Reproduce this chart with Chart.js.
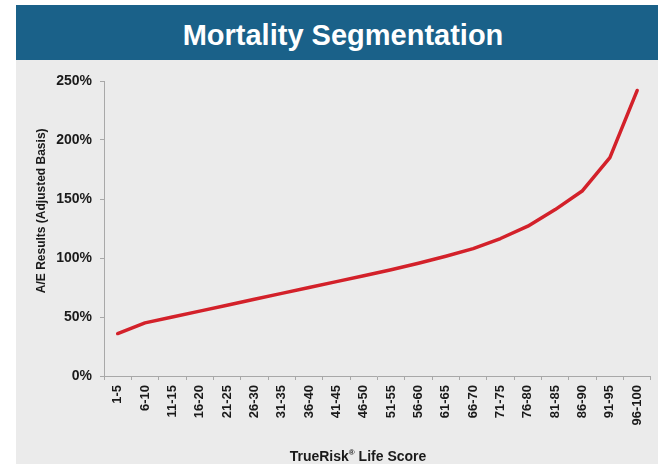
<!DOCTYPE html>
<html>
<head>
<meta charset="utf-8">
<script src="https://cdn.jsdelivr.net/npm/chart.js@4/dist/chart.umd.min.js"></script>
<style>
  html, body { margin: 0; padding: 0; background: #ffffff; }
  body { width: 658px; height: 464px; position: relative; overflow: hidden;
         font-family: "Liberation Sans", Arial, sans-serif; }
  #banner { position: absolute; left: 16px; top: 5px; width: 642px; height: 55px;
            background: #1a6189; }
  #banner h1 { position: absolute; left: 12px; right: 0; top: 16px; margin: 0;
               font-size: 29px; line-height: 29px; font-weight: bold; color: #ffffff;
               text-align: center; }
  #panel { position: absolute; left: 16px; top: 60px; width: 642px; height: 404px;
           background: #ebebeb; }
  #chart { display: block; }
</style>
</head>
<body>
<div id="banner"><h1>Mortality Segmentation</h1></div>
<div id="panel"><canvas id="chart" width="642" height="404"></canvas></div>
<script>
// TrueRisk score bands
const categories = ['1-5', '6-10', '11-15', '16-20', '21-25', '26-30', '31-35', '36-40',
  '41-45', '46-50', '51-55', '56-60', '61-65', '66-70', '71-75', '76-80',
  '81-85', '86-90', '91-95', '96-100'];

// Actual-to-expected mortality (%), adjusted basis
const aeResults = [36, 45, 50, 55, 60, 65, 70, 75, 80, 85, 90, 95.5, 101.5, 108, 116.5, 127, 141, 157, 185, 242];

// Value axis ticks (%)
const yTicks = [0, 50, 100, 150, 200, 250];

const FONT = '"Liberation Sans", Arial, sans-serif';
const INK = '#1a1a1a';
const Y_TITLE = 'A/E Results (Adjusted Basis)';
const X_TITLE = ['TrueRisk', '\u00AE', ' Life Score'];

// Axis captions: vertical one for the value axis, and the score caption
// with a raised registered mark under the category axis
const axisCaptions = {
  id: 'axisCaptions',
  afterDraw(chart) {
    const { ctx, scales } = chart;
    ctx.save();
    ctx.fillStyle = INK;

    // value axis caption, centred on the 140% level
    const cy = scales.y.getPixelForValue(140);
    ctx.save();
    ctx.translate(26, cy);
    ctx.rotate(-Math.PI / 2);
    ctx.font = 'bold 12px ' + FONT;
    ctx.textAlign = 'center';
    ctx.textBaseline = 'middle';
    ctx.fillText(Y_TITLE, 0, 0);
    ctx.restore();

    // category axis caption
    const big = 'bold 14px ' + FONT;
    const small = 'bold 8px ' + FONT;
    ctx.font = big;
    const w0 = ctx.measureText(X_TITLE[0]).width;
    const w2 = ctx.measureText(X_TITLE[2]).width;
    ctx.font = small;
    const w1 = ctx.measureText(X_TITLE[1]).width;
    const total = w0 + w1 + w2;
    const cx = 342;
    const base = 401;
    let x = cx - total / 2;
    ctx.textAlign = 'left';
    ctx.textBaseline = 'alphabetic';
    ctx.font = big;
    ctx.fillText(X_TITLE[0], x, base);
    x += w0;
    ctx.font = small;
    ctx.fillText(X_TITLE[1], x, base - 6);
    x += w1;
    ctx.font = big;
    ctx.fillText(X_TITLE[2], x, base);
    ctx.restore();
  }
};

new Chart(document.getElementById('chart'), {
  type: 'line',
  data: {
    labels: categories,
    datasets: [{
      data: aeResults,
      borderColor: '#d3212a',
      borderWidth: 3.5,
      borderCapStyle: 'round',
      borderJoinStyle: 'round',
      pointRadius: 0,
      tension: 0,
      fill: false
    }]
  },
  plugins: [axisCaptions],
  options: {
    responsive: false,
    devicePixelRatio: 1,
    animation: false,
    layout: { padding: { left: 0, right: 7, top: 21, bottom: 0 } },
    plugins: {
      legend: { display: false },
      tooltip: { enabled: false },
      title: { display: false }
    },
    scales: {
      x: {
        type: 'category',
        offset: true,
        grid: { display: true, drawOnChartArea: false, drawTicks: true, tickLength: 4,
                offset: true, color: '#a8a8a8' },
        border: { display: true, color: '#a8a8a8', width: 1 },
        ticks: {
          autoSkip: false, minRotation: 90, maxRotation: 90, padding: 5,
          color: INK, font: { family: FONT, size: 13, weight: 'bold' }
        },
        title: { display: false },
        afterFit(scale) { scale.height = 88; }
      },
      y: {
        min: 0, max: 250,
        afterBuildTicks(scale) { scale.ticks = yTicks.map(v => ({ value: v })); },
        grid: { display: true, drawOnChartArea: false, drawTicks: true, tickLength: 4,
                color: '#a8a8a8' },
        border: { display: true, color: '#a8a8a8', width: 1 },
        ticks: {
          padding: 8, color: INK,
          font: { family: FONT, size: 14, weight: 'bold' },
          callback: v => v + '%'
        },
        title: { display: false },
        afterFit(scale) { scale.width = 88; }
      }
    }
  }
});
</script>
</body>
</html>
